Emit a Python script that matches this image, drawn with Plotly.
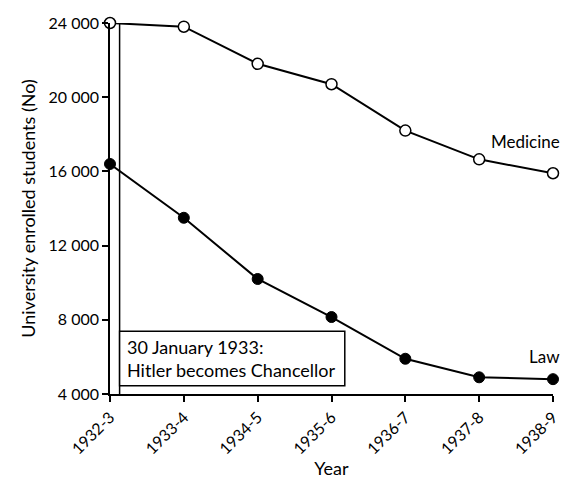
import plotly.graph_objects as go

years = ["1932-3", "1933-4", "1934-5", "1935-6", "1936-7", "1937-8", "1938-9"]
medicine = [24000, 23800, 21800, 20700, 18200, 16650, 15900]
law = [16400, 13500, 10200, 8150, 5900, 4900, 4800]
y_ticks = [4000, 8000, 12000, 16000, 20000, 24000]
y_ticktext = ["4 000", "8 000", "12 000", "16 000", "20 000", "24 000"]

xpos = list(range(len(years)))
FONT = "Lato, 'Open Sans', sans-serif"

fig = go.Figure()
fig.add_trace(go.Scatter(
    x=xpos, y=medicine, mode="lines+markers", name="Medicine",
    line=dict(color="black", width=2),
    marker=dict(symbol="circle", size=11, color="white", line=dict(color="black", width=1.5)),
    cliponaxis=False,
))
fig.add_trace(go.Scatter(
    x=xpos, y=law, mode="lines+markers", name="Law",
    line=dict(color="black", width=2),
    marker=dict(symbol="circle", size=11, color="black", line=dict(color="black", width=1)),
    cliponaxis=False,
))

# event line (30 January 1933)
fig.add_shape(type="line", xref="x", yref="y", x0=0.13, x1=0.13, y0=4000, y1=24000,
              line=dict(color="black", width=1.5), layer="below")
# event box
fig.add_shape(type="rect", xref="x", yref="y", x0=0.13, x1=3.18, y0=4450, y1=7380,
              line=dict(color="black", width=1.5), fillcolor="white", layer="above")
fig.add_annotation(x=0.2, y=5915, xref="x", yref="y", xanchor="left", yanchor="middle",
                   text="30 January 1933:<br>Hitler becomes Chancellor", showarrow=False,
                   align="left", font=dict(family=FONT, size=18, color="black"))

fig.add_annotation(x=1.02, y=medicine[-1], xref="paper", yref="y", yshift=32,
                   xanchor="right", text="Medicine", showarrow=False,
                   font=dict(family=FONT, size=17, color="black"))
fig.add_annotation(x=1.02, y=law[-1], xref="paper", yref="y", yshift=23,
                   xanchor="right", text="Law", showarrow=False,
                   font=dict(family=FONT, size=17, color="black"))

fig.update_layout(
    width=565, height=479,
    margin=dict(l=110, r=12, t=23, b=85),
    paper_bgcolor="white", plot_bgcolor="white",
    showlegend=False,
    font=dict(family=FONT, size=16, color="black"),
    xaxis=dict(
        range=[0, 6], tickvals=xpos, ticktext=years, tickangle=-45,
        showline=True, linecolor="black", linewidth=1.5,
        ticks="outside", ticklen=6, tickcolor="black", tickwidth=1.5,
        showgrid=False, zeroline=False, automargin=False,
        title=dict(text="Year", font=dict(size=18), standoff=6),
        tickfont=dict(size=16),
    ),
    yaxis=dict(
        range=[4000, 24000], tickvals=y_ticks, ticktext=y_ticktext,
        showline=True, linecolor="black", linewidth=1.5,
        ticks="outside", ticklen=6, tickcolor="black", tickwidth=1.5,
        showgrid=False, zeroline=False, automargin=False,
        title=dict(text="University enrolled students (No)", font=dict(size=18), standoff=8),
        tickfont=dict(size=16),
    ),
)

fig.write_html("out.html", config={"displayModeBar": False},
               post_script="document.body.style.margin='0';document.body.style.overflow='hidden';")
